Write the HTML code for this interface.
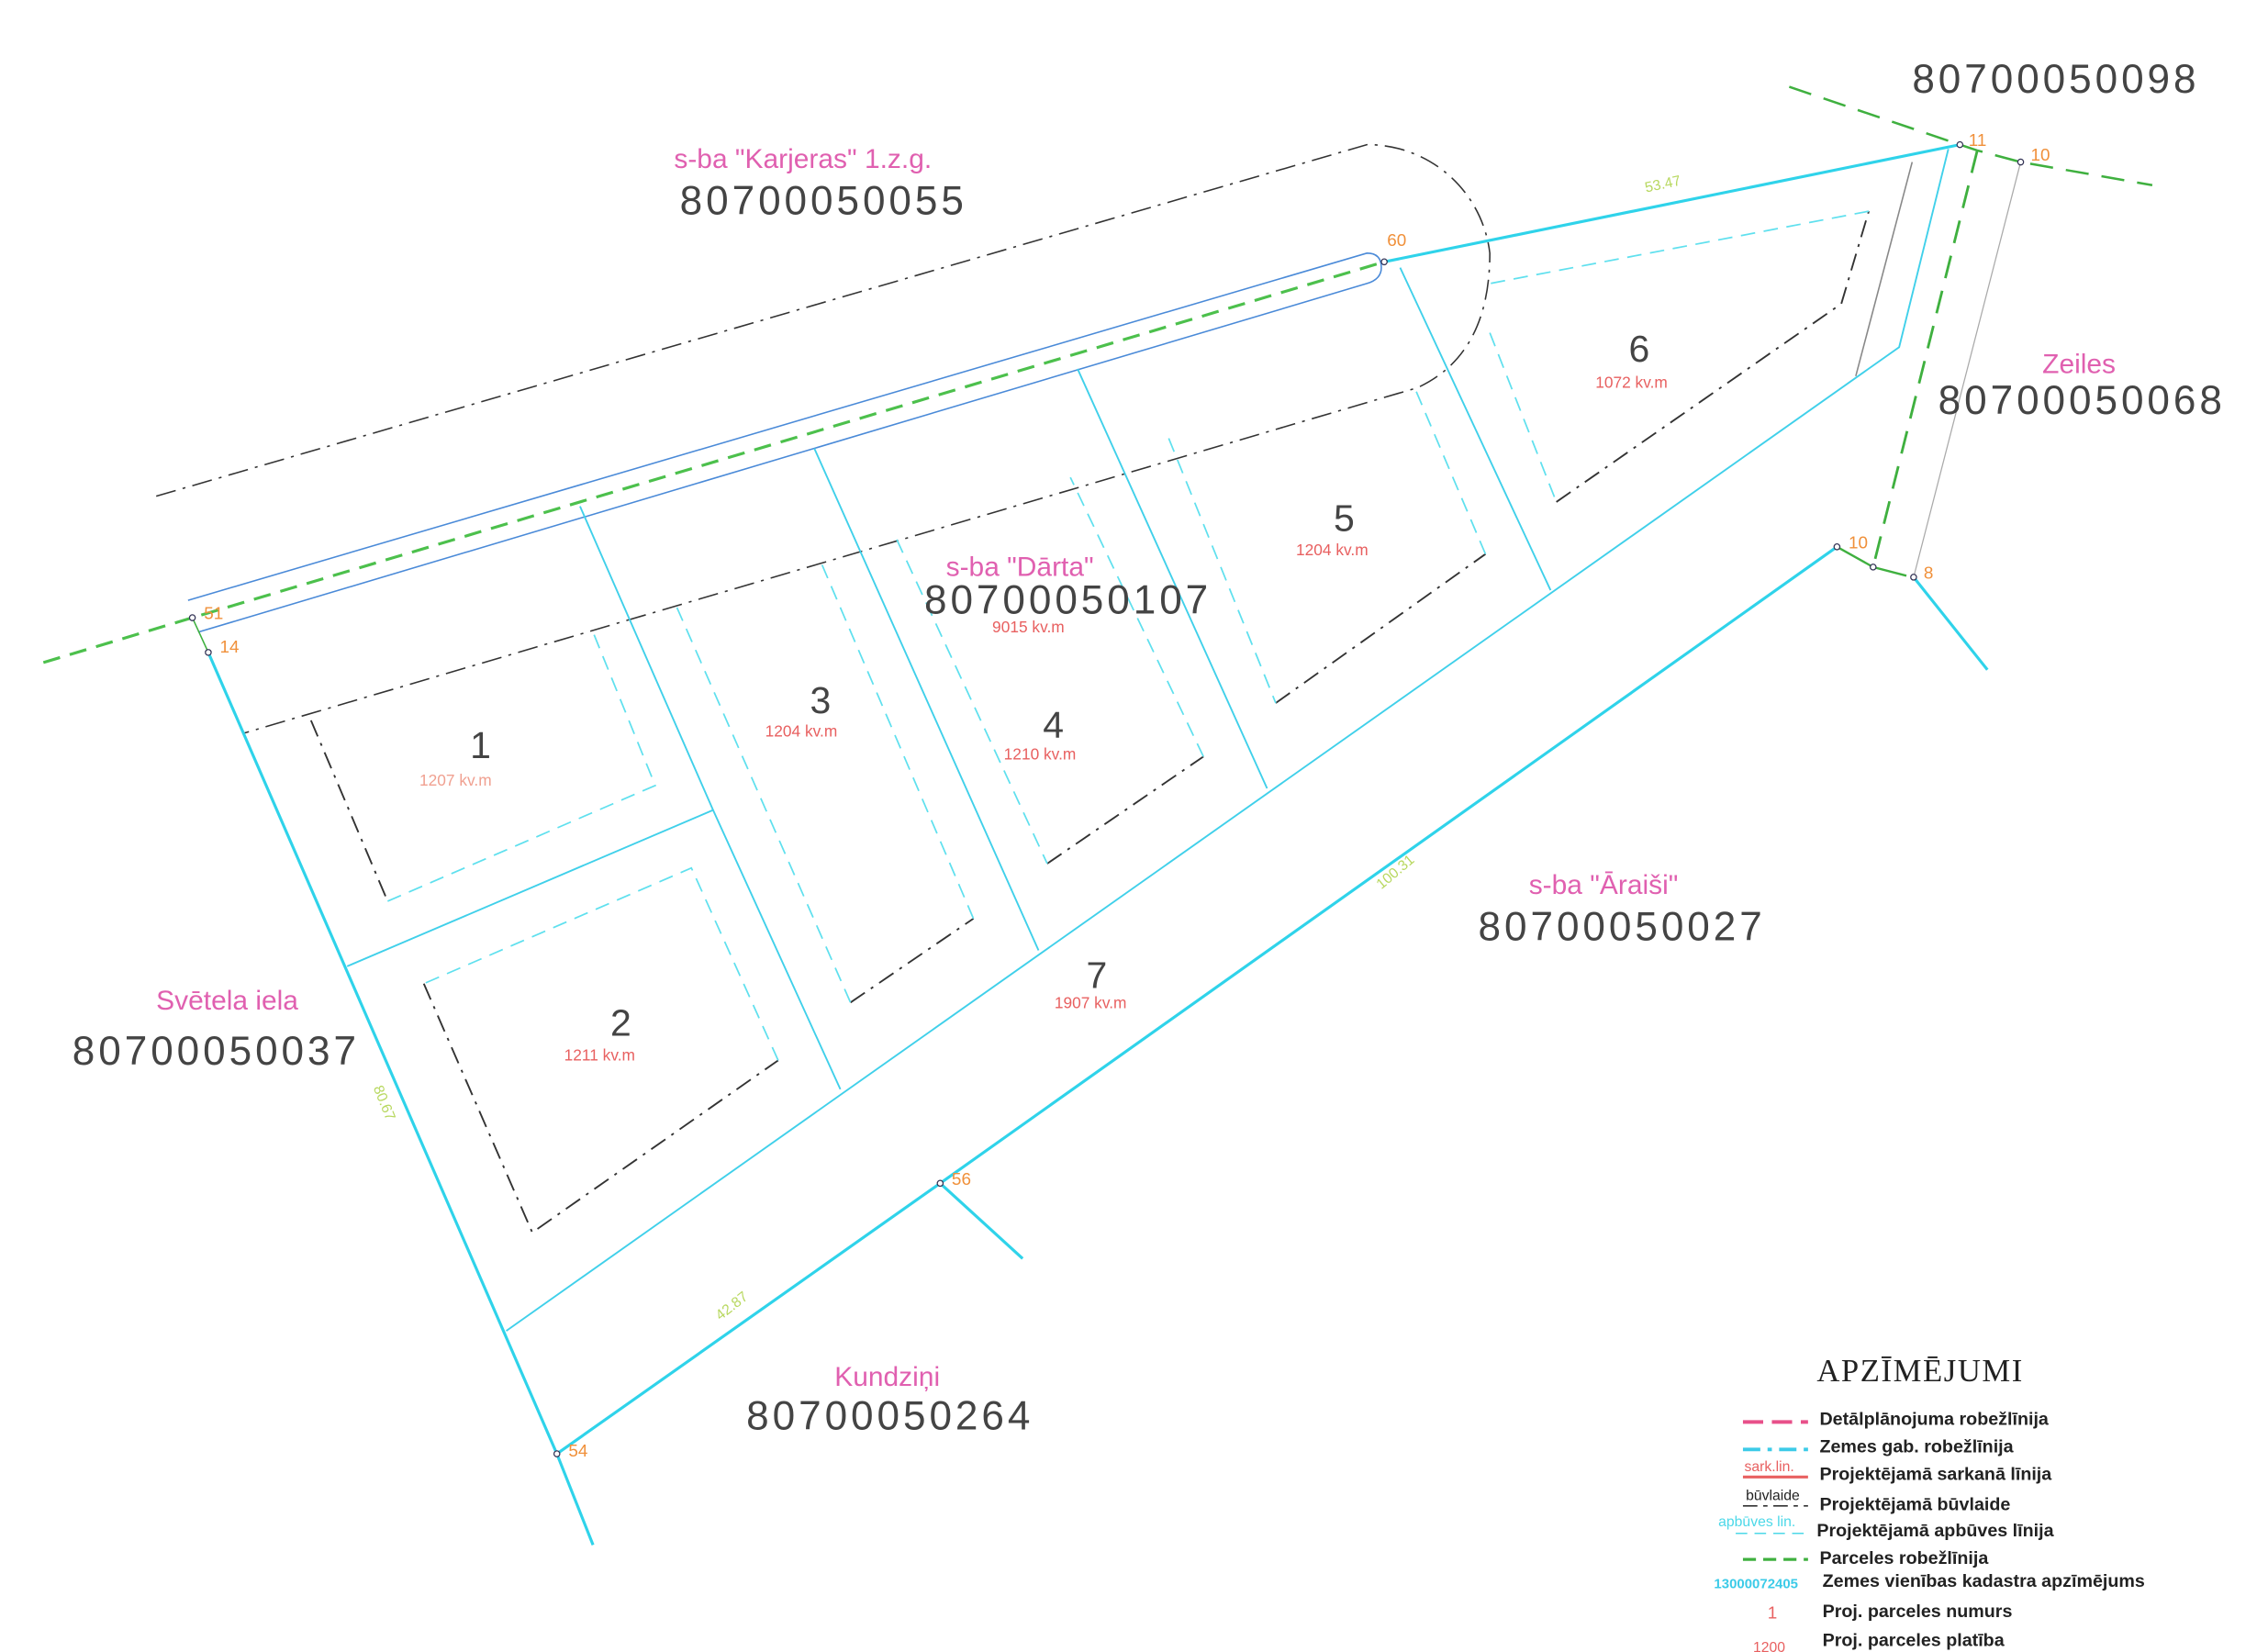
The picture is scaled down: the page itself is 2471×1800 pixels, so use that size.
<!DOCTYPE html>
<html><head><meta charset="utf-8"><style>
html,body{margin:0;padding:0;background:#fff;}
svg{display:block;}
text{font-family:"Liberation Sans","DejaVu Sans",sans-serif;}
</style></head><body>
<svg width="2471" height="1800" viewBox="0 0 1568 1142" preserveAspectRatio="none" xmlns="http://www.w3.org/2000/svg">
<rect width="1568" height="1142" fill="#fff"/>
<path d="M108,343 L945,100 A85,85 0 0 1 1030,175 Q1030,245 980,268 L168,507" fill="none" stroke="#333" stroke-width="1" stroke-dasharray="14,5,2,5"/>
<path d="M130,415 L945,175 Q955,175 955,185 Q955,193 945,196 L137,437" fill="none" stroke="#4a8ad8" stroke-width="1"/>
<polyline points="30,458 133,427 957,181" fill="none" stroke="#4cc04c" stroke-width="2" stroke-dasharray="12,7"/>
<polyline points="1237,60 1355,100 1367,104 1397,112 1488,128" fill="none" stroke="#3fb03f" stroke-width="1.6" stroke-dasharray="16,9"/>
<polyline points="1367,104 1295,392" fill="none" stroke="#3fb03f" stroke-width="1.8" stroke-dasharray="16,9"/>
<polyline points="1270,378 1295,392 1318,398" fill="none" stroke="#3fb03f" stroke-width="1.5"/>
<g fill="none" stroke="#2fd3ea" stroke-width="2">
<polyline points="957,181 1355,100"/>
<polyline points="144,451 385,1005 410,1068"/>
<polyline points="385,1005 650,818 1270,378"/>
<polyline points="650,818 707,870"/>
<polyline points="1323,399 1374,463"/>
</g>
<g fill="none" stroke="#40d0ea" stroke-width="1.2">
<polyline points="350,920 1313,240 1347,103"/>
<polyline points="401,350 493,560 581,753"/>
<polyline points="240,668 493,560"/>
<polyline points="563,310 718,657"/>
<polyline points="745,255 876,545"/>
<polyline points="968,185 1072,408"/>
</g>
<line x1="1283" y1="260" x2="1322" y2="112" stroke="#888" stroke-width="1"/>
<line x1="1323" y1="399" x2="1397" y2="112" stroke="#aaa" stroke-width="0.8"/>
<line x1="133" y1="427" x2="144" y2="451" stroke="#3fb03f" stroke-width="1"/>
<g fill="none" stroke="#333" stroke-width="1.2" stroke-dasharray="12,5,2,5">
<polyline points="215,498 268,623"/>
<polyline points="293,680 368,852 538,733"/>
<polyline points="588,693 673,635"/>
<polyline points="724,597 832,523"/>
<polyline points="882,486 1027,383"/>
<polyline points="1076,347 1273,210 1292,146"/>
</g>
<g fill="none" stroke="#5fe0ee" stroke-width="1.1" stroke-dasharray="10,6">
<polyline points="268,623 453,543 410,437"/>
<polyline points="538,733 478,600 293,680"/>
<polyline points="468,420 588,693"/>
<polyline points="673,635 566,385"/>
<polyline points="620,373 724,597"/>
<polyline points="832,523 740,330"/>
<polyline points="808,303 882,486"/>
<polyline points="1027,383 978,268"/>
<polyline points="1030,230 1076,347"/>
<polyline points="1292,146 1030,196"/>
</g>
<g fill="#fff" stroke="#335" stroke-width="0.8">
<circle cx="1355" cy="100" r="2"/><circle cx="1397" cy="112" r="2"/><circle cx="957" cy="181" r="2"/>
<circle cx="133" cy="427" r="2"/><circle cx="144" cy="451" r="2"/><circle cx="385" cy="1005" r="2"/>
<circle cx="650" cy="818" r="2"/><circle cx="1270" cy="378" r="2"/><circle cx="1295" cy="392" r="2"/><circle cx="1323" cy="399" r="2"/>
</g>
<g fill="#f0903a" font-size="12">
<text x="1361" y="101">11</text><text x="1404" y="111">10</text><text x="959" y="170">60</text>
<text x="141" y="428">51</text><text x="152" y="451">14</text><text x="393" y="1007">54</text>
<text x="658" y="819">56</text><text x="1278" y="379">10</text><text x="1330" y="400">8</text>
</g>
<g fill="#b8d860" font-size="10">
<text x="1138" y="133" transform="rotate(-12 1138 133)">53.47</text>
<text x="955" y="615" transform="rotate(-40 955 615)">100.31</text>
<text x="498" y="913" transform="rotate(-38 498 913)">42.87</text>
<text x="258" y="752" transform="rotate(68 258 752)">80.67</text>
</g>
<g fill="#e060b0" font-size="19">
<text x="466" y="116">s-ba "Karjeras" 1.z.g.</text>
<text x="654" y="398">s-ba "Dārta"</text>
<text x="1412" y="258">Zeiles</text>
<text x="1057" y="618">s-ba "Āraiši"</text>
<text x="108" y="698">Svētela iela</text>
<text x="577" y="958">Kundziņi</text>
</g>
<g fill="#444" font-size="28" letter-spacing="2.5">
<text x="1322" y="64">80700050098</text>
<text x="470" y="148">80700050055</text>
<text x="1340" y="286">80700050068</text>
<text x="639" y="424">80700050107</text>
<text x="1022" y="650">80700050027</text>
<text x="50" y="736">80700050037</text>
<text x="516" y="988">80700050264</text>
</g>
<g fill="#444" font-size="26">
<text x="325" y="524">1</text><text x="422" y="716">2</text><text x="560" y="493">3</text>
<text x="721" y="510">4</text><text x="922" y="367">5</text><text x="1126" y="250">6</text><text x="751" y="683">7</text>
</g>
<g fill="#e86060" font-size="11">
<text x="290" y="543" fill="#f0a090">1207 kv.m</text><text x="390" y="733">1211 kv.m</text><text x="529" y="509">1204 kv.m</text>
<text x="694" y="525">1210 kv.m</text><text x="896" y="384">1204 kv.m</text><text x="1103" y="268">1072 kv.m</text>
<text x="729" y="697">1907 kv.m</text><text x="686" y="437">9015 kv.m</text>
</g>
<text x="1256" y="955" style="font-family:'Liberation Serif',serif" font-size="22" fill="#222" letter-spacing="1">APZĪMĒJUMI</text>
<g font-size="12.5" fill="#222" font-weight="bold">
<text x="1258" y="985">Detālplānojuma robežlīnija</text>
<text x="1258" y="1004">Zemes gab. robežlīnija</text>
<text x="1258" y="1023">Projektējamā sarkanā līnija</text>
<text x="1258" y="1044">Projektējamā būvlaide</text>
<text x="1256" y="1062">Projektējamā apbūves līnija</text>
<text x="1258" y="1081">Parceles robežlīnija</text>
<text x="1260" y="1097">Zemes vienības kadastra apzīmējums</text>
<text x="1260" y="1118">Proj. parceles numurs</text>
<text x="1260" y="1138">Proj. parceles platība</text>
</g>
<line x1="1205" y1="983" x2="1250" y2="983" stroke="#e8508a" stroke-width="2.5" stroke-dasharray="14,6"/>
<line x1="1205" y1="1002" x2="1250" y2="1002" stroke="#3ccbe8" stroke-width="2.5" stroke-dasharray="12,5,3,5"/>
<text x="1206" y="1017" font-size="10" fill="#e86060">sark.lin.</text>
<line x1="1205" y1="1021" x2="1250" y2="1021" stroke="#e86060" stroke-width="2"/>
<text x="1207" y="1037" font-size="10" fill="#222">būvlaide</text>
<line x1="1205" y1="1041" x2="1250" y2="1041" stroke="#333" stroke-width="1" stroke-dasharray="10,4,3,4"/>
<text x="1188" y="1055" font-size="10" fill="#4cd8e8">apbūves lin.</text>
<line x1="1200" y1="1060" x2="1250" y2="1060" stroke="#4cd8e8" stroke-width="1" stroke-dasharray="8,5"/>
<line x1="1205" y1="1078" x2="1250" y2="1078" stroke="#3fb03f" stroke-width="2" stroke-dasharray="9,5"/>
<text x="1185" y="1098" font-size="9.5" fill="#3ccbe8" font-weight="bold">13000072405</text>
<text x="1222" y="1119" font-size="12" fill="#e86060">1</text>
<text x="1212" y="1142" font-size="10" fill="#e86060">1200</text>
</svg>
</body></html>
